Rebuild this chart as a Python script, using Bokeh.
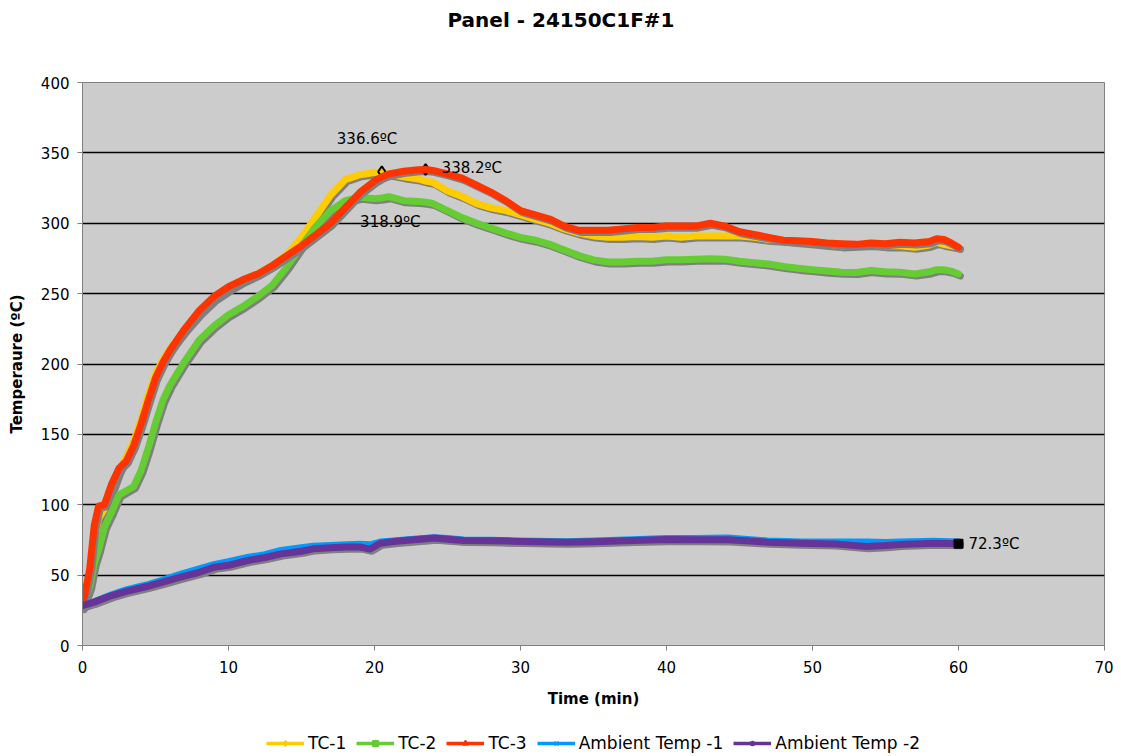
from bokeh.plotting import figure
from bokeh.layouts import column
from bokeh.models import (ColumnDataSource, Legend, LegendItem, Label, FixedTicker, Title)
from bokeh.transform import dodge
from bokeh.embed import file_html
from bokeh.resources import INLINE

FONT = "DejaVu Sans"

title = "Panel - 24150C1F#1"
x_label = "Time (min)"
y_label = "Temperaure (ºC)"

# TC series (time in minutes)
t_tc = [0, 0.5, 0.8, 1.1, 1.5, 2, 2.5, 3, 3.5, 4, 4.5, 5, 5.5, 6, 7, 8, 9, 10, 11, 12, 13, 14,
        15, 16, 17, 18, 19, 20, 20.5, 21, 22, 23, 23.5, 24, 25, 26, 27, 28, 29, 30, 31, 32, 33,
        34, 35, 36, 37, 38, 39, 40, 41, 42, 43, 44, 45, 46, 47, 48, 49, 50, 51, 52, 53, 54, 55,
        56, 57, 58, 58.5, 59, 59.5, 60]
tc1 = [28, 50, 75, 90, 97, 110, 124, 134, 145, 160, 178, 193, 203, 211, 224, 236, 246, 253, 259,
       264, 270, 278, 290, 305, 320, 331, 334.5, 336, 336.6, 335, 333, 331.5, 330, 329, 323, 319,
       314, 311, 309, 306, 303, 300, 296, 293, 291, 290, 290, 290.5, 290, 291, 290, 291, 291, 291,
       291, 290, 288.5, 288, 287, 286, 285, 284, 284.5, 285, 284, 284, 283, 284.5, 286.5, 285,
       284, 283]
tc2 = [27, 42, 58, 68, 84, 95, 107, 110, 113, 124, 140, 158, 174, 185, 202, 217, 227, 235, 241,
       248, 256, 269, 284, 298, 309, 316, 318.5, 317.5, 318, 318.9, 316, 315.5, 315, 314, 309,
       304, 300, 296.5, 293, 290, 288, 285, 281, 277, 274, 272.5, 272.5, 273, 273, 274, 274,
       274.5, 274.7, 274.5, 273, 272, 271, 269.3, 268, 267, 266, 265.2, 265, 266.4, 265.5,
       265.2, 264, 265.5, 267, 267, 266, 264]
tc3 = [28, 55, 85, 99, 100, 115, 126, 131, 142, 157, 174, 190, 201, 210, 225, 238, 248, 255,
       260, 264, 270, 277, 284, 292, 300, 311, 322, 330, 333, 335, 337, 338, 338.2, 337.5, 335,
       332, 327, 322, 316, 309, 306, 303, 298, 295, 295, 295, 296, 297, 297, 298, 298, 298, 300,
       298, 294, 292, 290, 288, 287.5, 287, 286, 285.5, 285, 286, 285.5, 286.5, 286, 287, 289,
       288.5, 286, 283]

# Ambient series
t_amb = [0, 0.8, 2, 3, 4.4, 5.5, 6.7, 8, 9, 10, 11.3, 12.5, 13.6, 15, 15.8, 17, 18.1, 19, 19.7,
         20.4, 21.5, 22.7, 24.1, 25, 26.1, 28, 29.5, 31, 33.2, 35, 37.7, 40, 42, 44.2, 46, 46.9,
         49.2, 51.5, 53.7, 55, 56, 58.3, 60]
amb1 = [28.4, 31, 36, 39.5, 43, 46.5, 50.5, 54.5, 57.5, 59.5, 62.5, 64.5, 67.5, 69.5, 70.5, 71,
        71.5, 72, 71.5, 73.5, 74.5, 75.5, 76.5, 76, 75, 74.8, 74.3, 74, 73.8, 74.2, 75.2, 76, 76,
        76.3, 75, 74.2, 73.5, 73.5, 73.5, 73.2, 73.5, 74, 73.5]
amb2 = [28.4, 30.8, 35.5, 38.5, 41.9, 45, 48.5, 52, 55.6, 57, 60.4, 62.5, 65.1, 67, 68.7, 69.5,
        69.9, 70, 68.5, 72.7, 74, 75.1, 76.3, 75.5, 74.6, 74.5, 74.1, 73.8, 73.4, 73.8, 74.6,
        75.3, 75.2, 75.1, 74, 73.4, 72.7, 72.2, 70.3, 71, 71.8, 72.7, 72.3]

series_names = ["TC-1", "TC-2", "TC-3", "Ambient Temp -1", "Ambient Temp -2"]
series_colors = ["#FFCC00", "#66CC33", "#FF3300", "#0099FF", "#663399"]
series_markers = ["diamond", "square", "triangle", "x", "asterisk"]

# peak / end annotations
peak_t = [20.5, 21, 23.5]
peak_v = [336.6, 318.9, 338.2]
end_t = [60]
end_v = [72.3]

X_MIN, X_MAX, Y_MIN, Y_MAX = 0, 70, 0, 400

p = figure(frame_width=1022, frame_height=563, x_range=(X_MIN, X_MAX), y_range=(Y_MIN, Y_MAX),
           output_backend="svg", toolbar_location=None,
           min_border_left=82, min_border_right=9, min_border_top=82, min_border_bottom=85,
           background_fill_color="#CCCCCC", border_fill_color="white",
           outline_line_color="#808080", outline_line_width=1)

# spacer (closest to frame) then the real title (outermost)
p.add_layout(Title(text=" ", text_font=FONT, text_font_size="16px", standoff=27), "above")
p.add_layout(Title(text=title, text_font=FONT, text_font_size="20px", text_font_style="bold",
                   text_color="black", align="left", offset=365, standoff=6), "above")

p.xaxis.ticker = FixedTicker(ticks=list(range(0, 71, 10)))
p.yaxis.ticker = FixedTicker(ticks=list(range(0, 401, 50)))
for ax in (p.xaxis, p.yaxis):
    ax.axis_line_color = "#808080"
    ax.major_tick_line_color = "#808080"
    ax.major_tick_out = 5
    ax.major_tick_in = 0
    ax.minor_tick_line_color = None
    ax.major_label_text_font = FONT
    ax.major_label_text_font_size = "15px"
    ax.major_label_text_color = "black"
    ax.axis_label_text_font = FONT
    ax.axis_label_text_font_size = "15px"
    ax.axis_label_text_font_style = "bold"
    ax.axis_label_text_color = "black"
p.xaxis.axis_label = x_label
p.yaxis.axis_label = y_label
p.xaxis.major_label_standoff = 10
p.xaxis.axis_label_standoff = 14
p.yaxis.major_label_standoff = 8
p.yaxis.axis_label_standoff = 12

p.xgrid.visible = False
p.ygrid.ticker = FixedTicker(ticks=list(range(50, 351, 50)))
p.ygrid.grid_line_color = "black"
p.ygrid.grid_line_width = 1.5

tc_src = ColumnDataSource(dict(t=t_tc, a=tc1, b=tc2, c=tc3))
amb_src = ColumnDataSource(dict(t=t_amb, d=amb1, e=amb2))
cols = [(tc_src, "a"), (tc_src, "b"), (tc_src, "c"), (amb_src, "d"), (amb_src, "e")]

# separate strip holding the legend, aligned with the main frame
# (its y range lies far below the data, so the series drawn there stay out of view)
leg = figure(frame_width=1022, frame_height=26, x_range=(X_MIN, X_MAX), y_range=(-2, -1),
             output_backend="svg", toolbar_location=None,
             min_border_left=82, min_border_right=9, min_border_top=0, min_border_bottom=0,
             x_axis_location=None, y_axis_location=None,
             background_fill_color="white", border_fill_color="white", outline_line_color=None)
leg.xgrid.visible = False
leg.ygrid.visible = False

legend_items = []
for i, ((src, col), name, color, mk) in enumerate(zip(cols, series_names, series_colors, series_markers)):
    p.line(x=dodge("t", 0.13), y=dodge(col, -1.5), source=src, line_color="#7F7F7F",
           line_width=7, line_join="round", line_cap="round")
    if i == 2:
        p.scatter(x=[peak_t[2]], y=[peak_v[2]], marker="diamond", size=11, fill_color=None,
                  line_color="black", line_width=2)
    p.line(x="t", y=col, source=src, line_color=color, line_width=7,
           line_join="round", line_cap="round")
    if i == 0:
        p.scatter(x=[peak_t[0]], y=[peak_v[0]], marker="diamond", size=11, fill_color=None,
                  line_color="black", line_width=2)
    # legend glyphs (same series, drawn outside the strip's visible range)
    lr = leg.line(x="t", y=col, source=src, line_color=color, line_width=3.5)
    mr = leg.scatter(x="t", y=col, source=src, marker=mk, size=6, fill_color=color,
                     line_color=color, line_width=1.5)
    legend_items.append(LegendItem(label=name, renderers=[lr, mr]))

p.scatter(x=end_t, y=end_v, marker="square", size=9, fill_color="black", line_color="black")

# labels
label_offsets = [(-45, 33), (-29, -25), (16, 1)]
for tt, vv, (dx, dy) in zip(peak_t, peak_v, label_offsets):
    p.add_layout(Label(x=tt, y=vv, x_offset=dx, y_offset=dy, text=f"{vv}ºC",
                       text_font=FONT, text_font_size="15px", text_baseline="middle",
                       text_align="left", text_color="black"))
for tt, vv in zip(end_t, end_v):
    p.add_layout(Label(x=tt, y=vv, x_offset=10, y_offset=0, text=f"{vv}ºC",
                       text_font=FONT, text_font_size="15px", text_baseline="middle",
                       text_align="left", text_color="black"))

legend = Legend(items=legend_items, orientation="horizontal", location="center",
                label_text_font=FONT, label_text_font_size="17px", label_text_color="black",
                glyph_width=38, glyph_height=14, label_standoff=4, spacing=10,
                padding=0, margin=0, border_line_color=None, background_fill_alpha=0)
leg.add_layout(legend)

layout = column(p, leg, spacing=0)
open("out.html", "w").write(file_html(layout, INLINE))
